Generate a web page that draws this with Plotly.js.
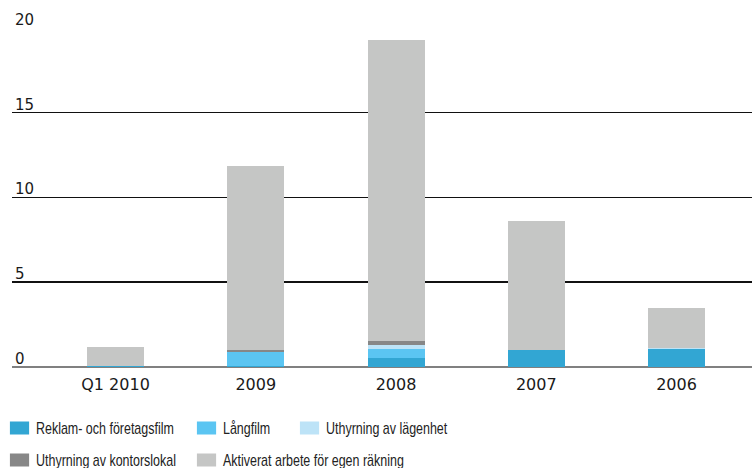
<!DOCTYPE html>
<html>
<head>
<meta charset="utf-8">
<script src="https://cdn.plot.ly/plotly-3.0.1.min.js"></script>
<style>
html,body{margin:0;padding:0;background:#fff;}
#chart{width:752px;height:468px;}
/* condensed legend labels, like the narrow typeface of the original */
#chart .infolayer text{transform-box:fill-box;transform-origin:0 50%;transform:scaleX(0.78);}
/* wider legend swatches */
#chart .legendpoints path{transform:translate(23.5px,0px) scale(1.6,1.08);}
</style>
</head>
<body>
<div id="chart"></div>
<script>
var categories = ['Q1 2010', '2009', '2008', '2007', '2006'];
var reklam = [0.06, 0.08, 0.55, 1.0, 1.06];
var langfilm = [0, 0.79, 0.51, 0, 0];
var lagenhet = [0, 0, 0.24, 0, 0.06];
var kontor = [0, 0.14, 0.24, 0, 0];
var aktiverat = [1.14, 10.81, 17.70, 7.59, 2.35];
var yTicks = [0, 5, 10, 15, 20];

var names = ['Reklam- och företagsfilm', 'Långfilm', 'Uthyrning av lägenhet', 'Uthyrning av kontorslokal', 'Aktiverat arbete för egen räkning'];
var colors = ['#32a6d3', '#5bc5f2', '#bde3f7', '#878787', '#c5c6c5'];
var series = [reklam, langfilm, lagenhet, kontor, aktiverat];
var legendIds = ['legend', 'legend2', 'legend3', 'legend', 'legend2'];

var data = series.map(function (vals, i) {
  return {
    type: 'bar',
    x: categories,
    y: vals,
    name: names[i],
    legend: legendIds[i],
    legendgroup: 'g' + i,
    width: 0.406,
    marker: {color: colors[i], line: {width: 0}},
    hoverinfo: 'skip'
  };
});

var legendFont = {family: '"Liberation Sans Narrow", "Arial Narrow", "Liberation Sans", sans-serif', size: 16, color: '#222'};
function legendAt(x) {
  return {
    x: x, xref: 'paper', xanchor: 'left',
    y: -0.13, yref: 'paper', yanchor: 'top',
    orientation: 'v', traceorder: 'grouped', tracegroupgap: 8,
    font: legendFont, bgcolor: 'rgba(0,0,0,0)', borderwidth: 0
  };
}

var layout = {
  width: 752, height: 468,
  margin: {l: 12, r: 0, t: 27, b: 101, autoexpand: false},
  paper_bgcolor: '#fff', plot_bgcolor: '#fff',
  barmode: 'stack',
  bargap: 0,
  showlegend: true,
  xaxis: {
    type: 'category',
    range: [-0.738, 4.538],
    showgrid: false, showline: false, zeroline: false,
    ticks: '',
    tickfont: {family: '"DejaVu Sans", sans-serif', size: 16, color: '#1a1a1a'},
    ticklabelstandoff: 6,
    fixedrange: true
  },
  yaxis: {
    range: [0, 20.02],
    tickvals: yTicks,
    ticktext: yTicks.map(String),
    ticks: '',
    showline: false,
    showgrid: true, gridcolor: '#111111', gridwidth: 1.3,
    zeroline: true, zerolinecolor: '#808080', zerolinewidth: 2,
    ticklabelposition: 'inside',
    ticklabeloverflow: 'allow',
    ticklabelstandoff: 0,
    ticklabelshift: -8,
    tickfont: {family: '"DejaVu Sans", sans-serif', size: 15, color: '#1a1a1a'},
    fixedrange: true
  },
  legend: legendAt(-0.0216),
  legend2: legendAt(0.2311),
  legend3: legendAt(0.3703)
};

Plotly.newPlot('chart', data, layout, {displayModeBar: false, staticPlot: true});
</script>
</body>
</html>
